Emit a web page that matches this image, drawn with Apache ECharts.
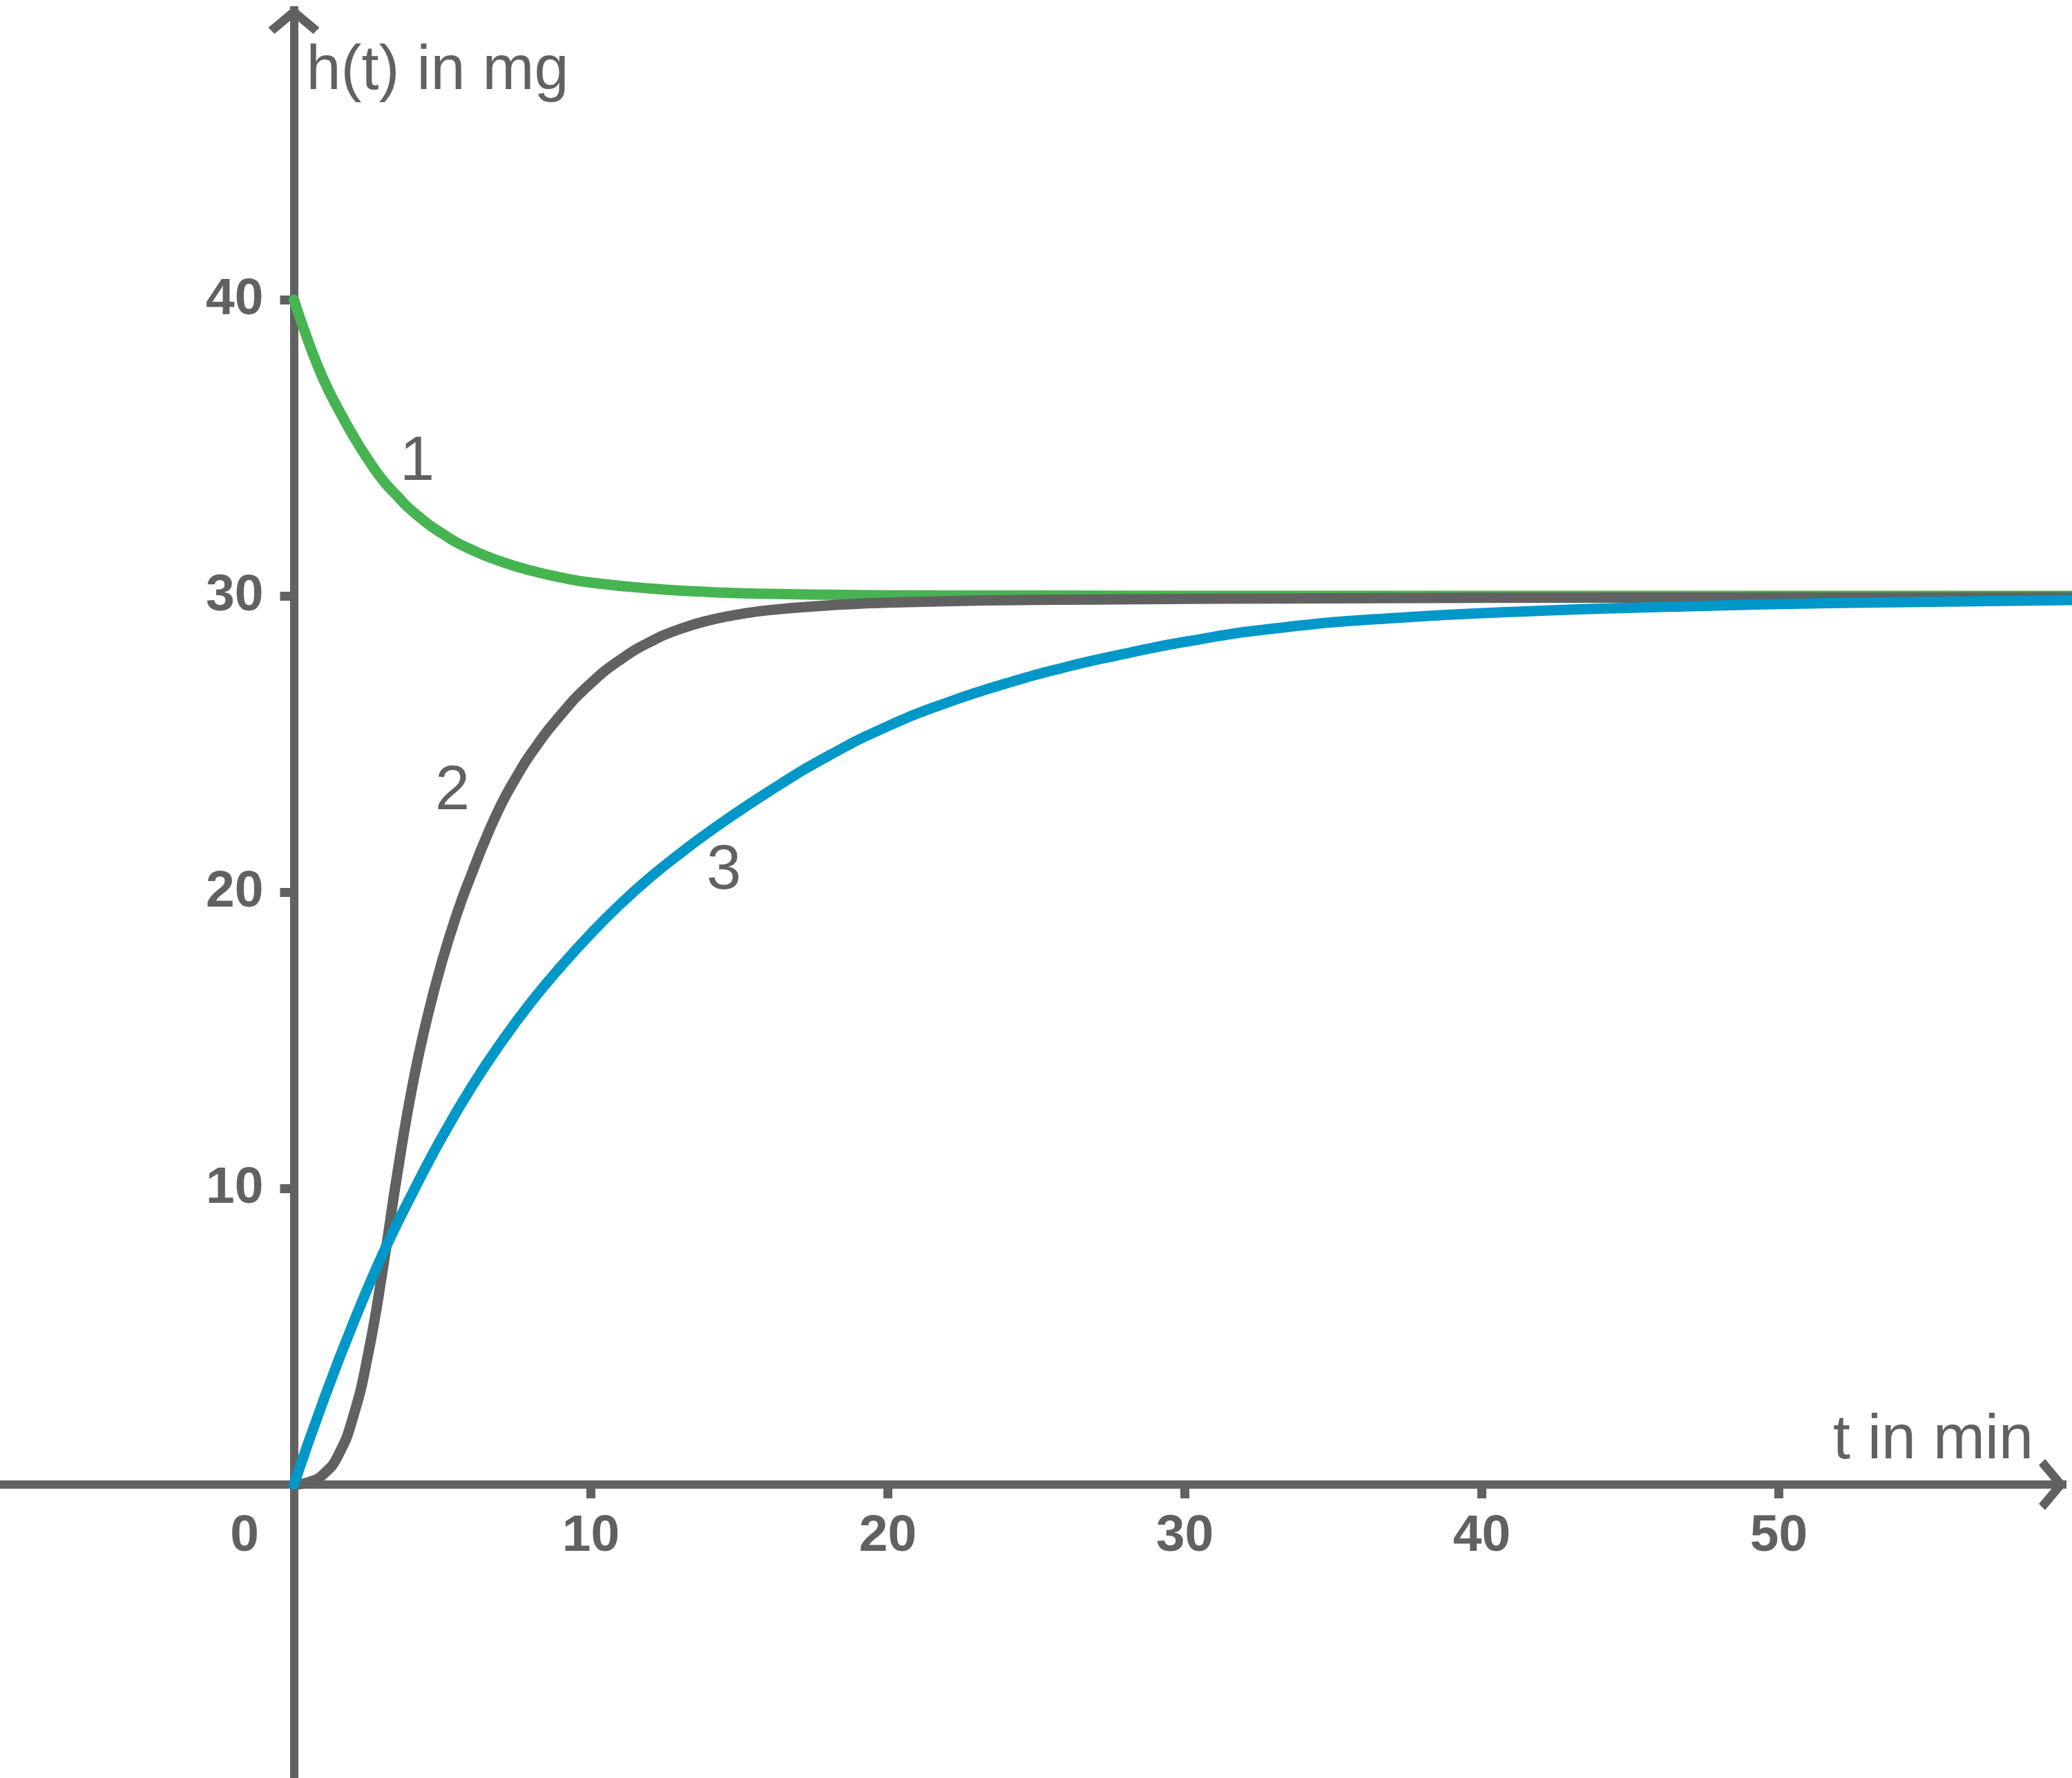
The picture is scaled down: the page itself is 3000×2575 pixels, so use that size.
<!DOCTYPE html>
<html>
<head>
<meta charset="utf-8">
<script src="https://cdn.jsdelivr.net/npm/echarts@6/dist/echarts.min.js"></script>
<style>
html,body{margin:0;padding:0;background:#ffffff;}
#chart{width:3000px;height:2575px;}
</style>
</head>
<body>
<div id="chart"></div>
<script>
// ---- data ----
const curve1T = [0, 0.5, 1, 1.5, 2, 2.5, 3, 3.5, 4, 5, 6, 7, 8, 9, 10, 12, 14, 16, 18, 20, 25, 30, 40, 50, 60];
const curve1H = [40, 38.55, 37.3, 36.3, 35.4, 34.6, 33.9, 33.35, 32.85, 32.1, 31.55, 31.15, 30.85, 30.62, 30.45, 30.25, 30.13, 30.07, 30.04, 30.02, 30.01, 30.0, 30.0, 30.0, 30.0];

const curve2T = [0, 0.5, 1, 1.5, 2, 2.5, 3, 3.5, 4, 4.5, 5, 5.5, 6, 6.5, 7, 7.5, 8, 9, 10, 11, 12, 13, 14, 15, 16, 18, 20, 23, 27, 35, 45, 60];
const curve2H = [0, 0.08, 0.35, 1.0, 2.3, 4.4, 7.3, 10.6, 13.5, 15.8, 17.7, 19.3, 20.65, 21.9, 23.0, 23.9, 24.7, 26.0, 27.05, 27.85, 28.45, 28.88, 29.18, 29.38, 29.52, 29.68, 29.77, 29.84, 29.88, 29.92, 29.94, 29.95];

const curve3T = [0, 1, 2, 3, 4, 5, 6, 7, 8, 9, 10, 11, 12, 13, 14, 16, 18, 20, 22, 24, 26, 28, 30, 33, 37, 42, 47, 52, 60];
const curve3H = [0, 2.85, 5.45, 7.8, 9.85, 11.75, 13.45, 14.95, 16.3, 17.5, 18.6, 19.6, 20.5, 21.3, 22.05, 23.4, 24.6, 25.6, 26.4, 27.05, 27.6, 28.05, 28.45, 28.9, 29.25, 29.5, 29.65, 29.76, 29.86];

const curveLabelText = ['1', '2', '3'];
const curveLabelT = [4.15, 5.34, 14.48];
const curveLabelH = [34.5, 23.38, 20.69];

const xTickValues = [10, 20, 30, 40, 50];
const xLabelValues = [0, 10, 20, 30, 40, 50];
const yTickValues = [10, 20, 30, 40];
const yLabelValues = [10, 20, 30, 40];

const xAxisName = 't in min';
const yAxisName = 'h(t) in mg';

// ---- axis ranges (chosen so that the axes cross at the origin) ----
const X_MIN = -9.895, X_MAX = 59.686;
const Y_MIN = -9.907, Y_MAX = 49.907;

// ---- styling ----
const W = 3000, H = 2575;
const GRID = {left: 0, right: 8, top: 9, bottom: 0};
const GRAY = '#616161';
const GREEN = '#46B450';
const BLUE = '#0097C9';
const FONT = 'Liberation Sans, Arial, sans-serif';
const CHEVRON = 'path://M37 0 L74 31 L65 40 L37 16.5 L9 40 L0 31 Z';
const CURVE_W = 15;

// pixel distance from the grid edge to the zero line (axes are moved there with offset)
const gridW = W - GRID.left - GRID.right;
const gridH = H - GRID.top - GRID.bottom;
const xAxisOffset = -gridH * (0 - Y_MIN) / (Y_MAX - Y_MIN);
const yAxisOffset = -gridW * (0 - X_MIN) / (X_MAX - X_MIN);

const zip = (ts, hs) => ts.map((t, i) => [t, hs[i]]);

const chart = echarts.init(document.getElementById('chart'), null, {renderer: 'canvas'});

const axisLineCommon = {
  show: true,
  onZero: false,
  symbol: ['none', CHEVRON],
  symbolSize: [74, 40],
  symbolOffset: [0, -20],
  lineStyle: {color: GRAY, width: 12, cap: 'butt'}
};

const curveSeries = (name, ts, hs, color) => ({
  name: name, type: 'line', data: zip(ts, hs), showSymbol: false, symbol: 'none',
  smooth: 0.5, clip: false, silent: true,
  lineStyle: {color: color, width: CURVE_W, cap: 'round', join: 'round'}
});

const option = {
  backgroundColor: '#ffffff',
  animation: false,
  grid: Object.assign({containLabel: false, outerBoundsMode: 'none'}, GRID),
  xAxis: {
    type: 'value',
    position: 'bottom',
    offset: xAxisOffset,
    min: X_MIN,
    max: X_MAX,
    name: xAxisName,
    nameLocation: 'end',
    nameGap: -48,
    nameTextStyle: {
      fontSize: 90, lineHeight: 90, fontFamily: FONT, color: GRAY,
      align: 'right', verticalAlign: 'bottom', padding: [0, 0, 18, 0]
    },
    axisLine: axisLineCommon,
    axisTick: {
      show: true, customValues: xTickValues, length: 20, inside: false,
      lineStyle: {color: GRAY, width: 13}
    },
    axisLabel: {
      show: true, customValues: xLabelValues, margin: 38,
      fontSize: 75, lineHeight: 75, fontWeight: 'bold', fontFamily: FONT, color: GRAY,
      formatter: v => (v === 0 ? '{o|0}' : String(v)),
      rich: {
        o: {fontSize: 75, lineHeight: 75, fontWeight: 'bold', fontFamily: FONT, color: GRAY, padding: [0, 143, 0, 0]}
      }
    },
    splitLine: {show: false}
  },
  yAxis: {
    type: 'value',
    position: 'left',
    offset: yAxisOffset,
    min: Y_MIN,
    max: Y_MAX,
    name: yAxisName,
    nameLocation: 'end',
    nameGap: -50,
    nameTextStyle: {
      fontSize: 90, lineHeight: 90, fontFamily: FONT, color: GRAY,
      align: 'left', verticalAlign: 'top', padding: [0, 0, 0, 18]
    },
    axisLine: axisLineCommon,
    axisTick: {
      show: true, customValues: yTickValues, length: 20, inside: false,
      lineStyle: {color: GRAY, width: 13}
    },
    axisLabel: {
      show: true, customValues: yLabelValues, margin: 44,
      fontSize: 75, lineHeight: 75, fontWeight: 'bold', fontFamily: FONT, color: GRAY
    },
    splitLine: {show: false}
  },
  series: [
    curveSeries('1', curve1T, curve1H, GREEN),
    curveSeries('2', curve2T, curve2H, GRAY),
    curveSeries('3', curve3T, curve3H, BLUE),
    {
      name: 'labels', type: 'scatter', symbolSize: 0, silent: true, z: 5,
      itemStyle: {opacity: 1},
      data: curveLabelT.map((t, i) => ({value: [t, curveLabelH[i]], name: curveLabelText[i]})),
      label: {
        show: true, position: 'inside', formatter: '{b}', opacity: 1,
        fontSize: 90, lineHeight: 90, fontFamily: FONT, color: GRAY, textBorderWidth: 0
      }
    }
  ]
};

chart.setOption(option);
</script>
</body>
</html>
